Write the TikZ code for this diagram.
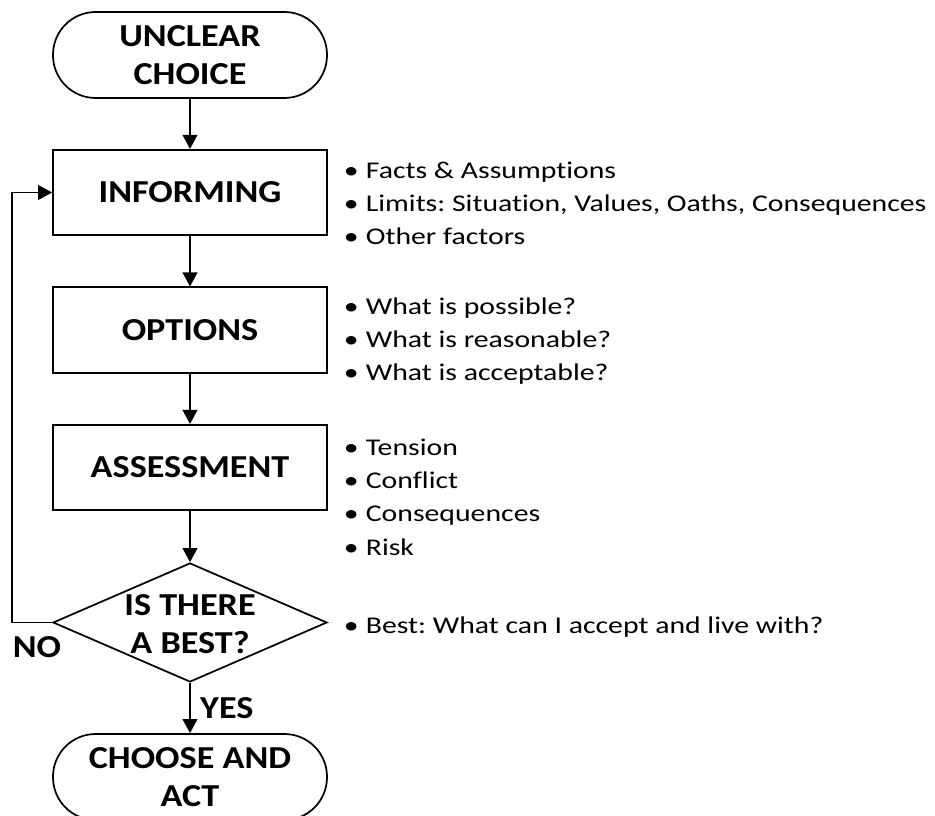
\documentclass[tikz,border=0pt]{standalone}
\usepackage{fontspec}
\setmainfont{Carlito}
\newfontfamily\headfont[FakeStretch=1.13]{Carlito}
\newfontfamily\notefont[FakeStretch=1.24, Ligatures=NoCommon]{Carlito}
\usetikzlibrary{shapes.geometric,arrows.meta}
\frenchspacing

\tikzset{
  terminal/.style={draw, rounded corners=32pt, minimum width=205.5pt, minimum height=64.5pt,
    inner sep=0pt, align=center, font=\headfont\fontsize{24}{29}\selectfont\bfseries},
  stepbox/.style={draw, minimum width=205.5pt, minimum height=64pt, inner sep=0pt,
    font=\headfont\fontsize{24}{29}\selectfont\bfseries},
  decision/.style={draw, diamond, minimum width=205.5pt, minimum height=89.25pt, inner sep=0pt},
  notes/.style={anchor=base west, align=left, inner sep=0pt, font=\notefont\fontsize{18}{25}\selectfont},
  answer/.style={inner sep=0pt, font=\headfont\fontsize{24}{29}\selectfont\bfseries},
}
\newcommand{\pt}{\makebox[16.5pt][l]{•}}

\begin{document}
\begin{tikzpicture}[x=0.75pt, y=-0.75pt, line width=1.3pt, >={Triangle[length=10.5pt,width=11pt]}]
    \useasboundingbox (0,0) rectangle (935,816);

    % Flow steps
    \node[terminal] (start)   at (190,55)    {UNCLEAR\\CHOICE};
    \node[stepbox]  (inform)  at (190,192.5) {INFORMING};
    \node[stepbox]  (options) at (190,330)   {OPTIONS};
    \node[stepbox]  (assess)  at (190,467.5) {ASSESSMENT};
    \node[decision] (best)    at (190,622.5) {};
    \node[answer, align=center] (bestq) at (190,624) {IS THERE\\A BEST?};
    \node[terminal] (act)     at (190,777)   {CHOOSE AND\\ACT};

    % Connectors
    \draw[->] (start) -- (inform);
    \draw[->] (inform) -- (options);
    \draw[->] (options) -- (assess);
    \draw[->] (assess) -- (best);
    \draw[->] (best) -- (act) node[pos=0.5, right=7pt, answer] (yes) {YES};

    % Loop back when there is no best
    \coordinate (back) at (12,622.5);
    \draw[->] (best.west) -- (back) |- (inform.west);
    \node[answer] (no) at (37,647) {NO};

    % Notes beside each step
    \node[notes] (infonotes) at (343,245) {\pt Facts \& Assumptions\\\pt Limits: Situation, Values, Oaths, Consequences\\\pt Other factors};
    \node[notes] (optnotes)  at (343,381) {\pt What is possible?\\\pt What is reasonable?\\\pt What is acceptable?};
    \node[notes] (assnotes)  at (343,555) {\pt Tension\\\pt Conflict\\\pt Consequences\\\pt Risk};
    \node[notes] (bestnotes) at (343,633) {\pt Best: What can I accept and live with?};
\end{tikzpicture}
\end{document}
